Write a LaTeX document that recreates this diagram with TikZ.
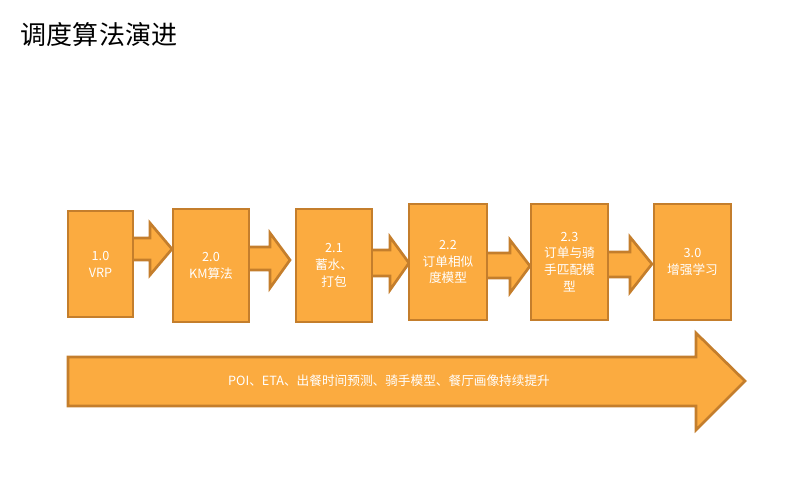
\documentclass[tikz,border=0pt]{standalone}
\usepackage{fontspec}
\setmainfont{Noto Sans CJK SC}
\definecolor{stagefill}{RGB}{251,171,64}
\definecolor{stageline}{RGB}{196,126,44}
\tikzset{
  stagebox/.style={draw=stageline, fill=stagefill, line width=1.9pt, text=white,
    align=center, font=\fontsize{9}{12}\selectfont, inner sep=0pt},
  stagearrow/.style={draw=stageline, fill=stagefill, line width=1.9pt}
}
\begin{document}
\begin{tikzpicture}[x=0.025cm, y=-0.025cm]
  \useasboundingbox (0,0) rectangle (804,489);
  \node[anchor=west, font=\fontsize{18.5}{22}\selectfont] (title) at (16,35) {调度算法演进};
  % arrows between the stages
  \filldraw[stagearrow] (128,238) -- (150,238) -- (150,223) -- (172,249) -- (150,275) -- (150,260) -- (128,260) -- cycle;
  \filldraw[stagearrow] (244,247) -- (270,247) -- (270,233) -- (290,260) -- (270,288) -- (270,270) -- (244,270) -- cycle;
  \filldraw[stagearrow] (367,250) -- (390,250) -- (390,237) -- (409,263) -- (390,290) -- (390,276) -- (367,276) -- cycle;
  \filldraw[stagearrow] (482,253) -- (510,253) -- (510,240) -- (530,266) -- (510,293) -- (510,278) -- (482,278) -- cycle;
  \filldraw[stagearrow] (603,252) -- (630,252) -- (630,237) -- (652,264) -- (630,292) -- (630,277) -- (603,277) -- cycle;
  % stages
  \node[stagebox, minimum width=1.625cm, minimum height=2.65cm] (v10) at (100.5,264) {1.0\\VRP};
  \node[stagebox, minimum width=1.9cm, minimum height=2.825cm] (v20) at (211,265.5) {2.0\\KM算法};
  \node[stagebox, minimum width=1.9cm, minimum height=2.825cm] (v21) at (334,265.5) {2.1\\蓄水、\\打包};
  \node[stagebox, minimum width=1.95cm, minimum height=2.9cm] (v22) at (448,262) {2.2\\订单相似\\度模型};
  \node[stagebox, minimum width=1.925cm, minimum height=2.9cm] (v23) at (569.5,262) {2.3\\订单与骑\\手匹配模\\型};
  \node[stagebox, minimum width=1.925cm, minimum height=2.9cm] (v30) at (692.5,262) {3.0\\增强学习};
  % long term trend
  \filldraw[stagearrow] (68,357) -- (696,357) -- (696,333) -- (745,381) -- (696,430) -- (696,406) -- (68,406) -- cycle;
  \node[text=white, font=\fontsize{9}{12}\selectfont] (trend) at (389,381) {POI、ETA、出餐时间预测、骑手模型、餐厅画像持续提升};
\end{tikzpicture}
\end{document}
